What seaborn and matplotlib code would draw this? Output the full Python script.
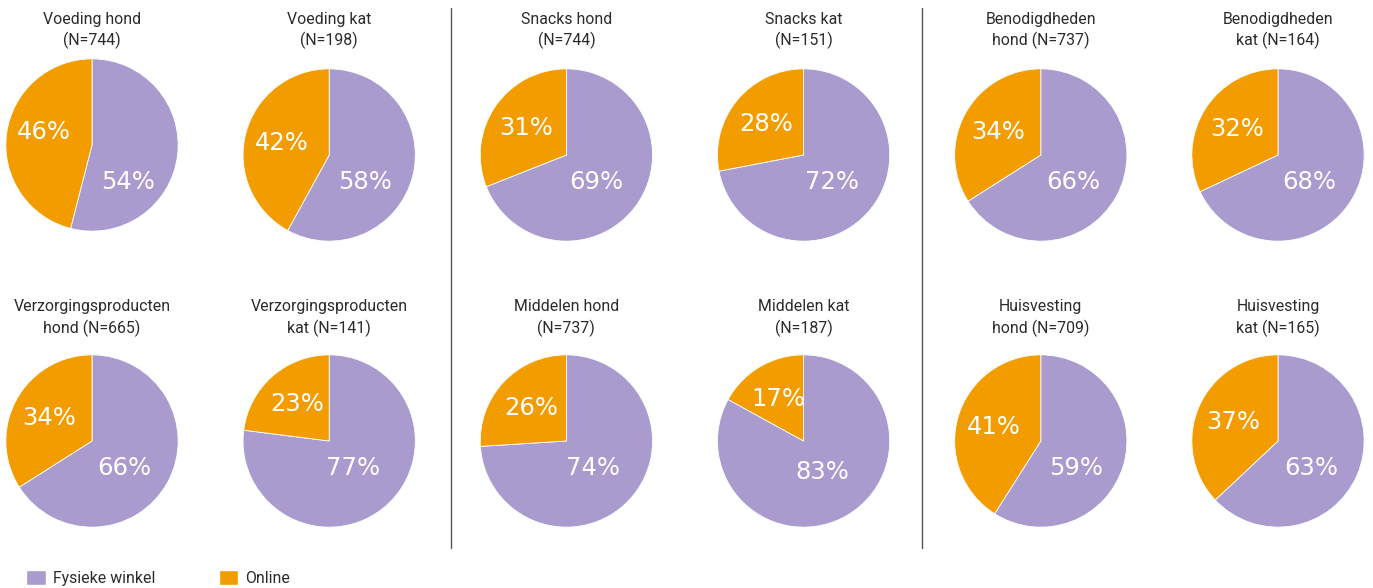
import numpy as np
import matplotlib
matplotlib.use("Agg")
import matplotlib.pyplot as plt
import seaborn as sns
from matplotlib.patches import Patch
from matplotlib.lines import Line2D

sns.set_theme(style="white")
plt.rcParams['font.family'] = ['Roboto', 'DejaVu Sans']

# ---------------- data ----------------
categories = ["Voeding hond", "Voeding kat", "Snacks hond", "Snacks kat",
              "Benodigdheden hond", "Benodigdheden kat",
              "Verzorgingsproducten hond", "Verzorgingsproducten kat",
              "Middelen hond", "Middelen kat", "Huisvesting hond", "Huisvesting kat"]
n_values = [744, 198, 744, 151, 737, 164, 665, 141, 737, 187, 709, 165]
fysiek = [54, 58, 69, 72, 66, 68, 66, 77, 74, 83, 59, 63]
online = [46, 42, 31, 28, 34, 32, 34, 23, 26, 17, 41, 37]
series_labels = ["Fysieke winkel", "Online"]

colors = sns.color_palette(["#A99BCD", "#F39C00"])
TEXT = "#2b2b2b"

W, H = 1373, 588
fig = plt.figure(figsize=(W / 100, H / 100), dpi=100)

R = 87
col_x = [92 + 237.2 * i for i in range(6)]
row_y = [155, 441]
title_y = [30.5, 318]


def make_title(name, n):
    first, rest = name.split(" ", 1)
    if len(first) > 10:
        return f"{first}\n{rest} (N={n})"
    return f"{name}\n(N={n})"


for k, name in enumerate(categories):
    r, c = divmod(k, 6)
    cx = col_x[c]
    shift = 10 if k == 0 else 0
    cy = row_y[r] - shift
    ax = fig.add_axes([(cx - R) / W, 1 - (cy + R) / H, 2 * R / W, 2 * R / H])
    wedges, _ = ax.pie([fysiek[k], online[k]], colors=colors, startangle=90,
                       counterclock=False, radius=1,
                       wedgeprops=dict(linewidth=0.6, edgecolor="white"))
    ax.set_xlim(-1.01, 1.01)
    ax.set_ylim(-1.01, 1.01)
    ax.set_aspect("auto")
    ax.axis("off")
    for j, (w, val) in enumerate(zip(wedges, [fysiek[k], online[k]])):
        mid = np.deg2rad((w.theta1 + w.theta2) / 2)
        if j == 0:
            x, y = 0.42 * np.cos(mid), 0.42 * np.sin(mid)
            y = min(y, -0.31)
            base_y = row_y[r]
        else:
            x, y = 0.56 * np.cos(mid), 0.56 * np.sin(mid)
            base_y = cy - (0.08 * R if shift else 0)
        px = cx + x * R
        py = base_y - y * R
        fig.text(px / W, 1 - py / H, f"{val}%", ha="center", va="center",
                 color="white", fontsize=17.5, family="DejaVu Sans")
    fig.text(cx / W, 1 - title_y[r] / H, make_title(name, n_values[k]),
             ha="center", va="center", fontsize=11.4, color=TEXT,
             linespacing=1.4)

# separators
for sx in [451, 922]:
    fig.add_artist(Line2D([sx / W, sx / W], [1 - 8 / H, 1 - 548 / H],
                          color="#555555", lw=1))

handles = [Patch(facecolor=colors[0]), Patch(facecolor=colors[1])]
fig.legend(handles, series_labels, loc="center left",
           bbox_to_anchor=(26 / W, 1 - 578 / H), ncol=2, frameon=False,
           fontsize=11.4, handlelength=1.25, handleheight=1.1,
           handletextpad=0.45, columnspacing=4.0, borderpad=0,
           borderaxespad=0, labelcolor=TEXT)

fig.savefig("out.png", dpi=100)
